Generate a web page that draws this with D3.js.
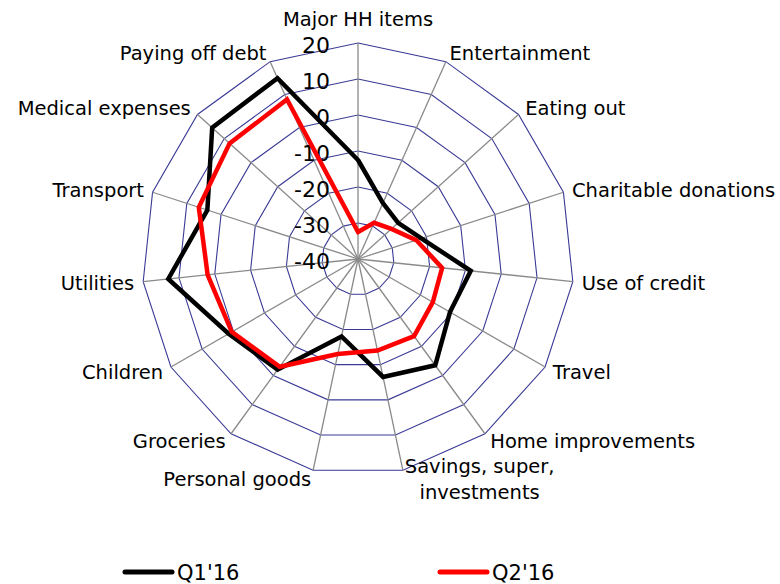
<!DOCTYPE html>
<html>
	<head>
		<script type="text/javascript" src="https://d3js.org/d3.v7.min.js"></script>
		<style>
			body { margin: 0; background: #fff; }
			text { font-family: "DejaVu Sans", sans-serif; fill: #000; }
		</style>
	</head>
	<body>
		<svg id="viz"></svg>
	</body>
	<script type="text/javascript">
		// categories, clockwise from the top
		var categories = ["Major HH items", "Entertainment", "Eating out", "Charitable donations",
			"Use of credit", "Travel", "Home improvements", "Savings, super,\ninvestments",
			"Personal goods", "Groceries", "Children", "Utilities", "Transport",
			"Medical expenses", "Paying off debt"];
		var q1Values = [-12.5, -23, -25, -21.5, -8.5, -10.5, -3.5, -6.5, -18, -2, 1.5, 13, 4, 14.5, 15];
		var q2Values = [-32.5, -29, -27.5, -23, -16.5, -16, -13.5, -14, -13, -3, 0.5, 2, 6.5, 8, 8.5];
		var tickValues = [-40, -30, -20, -10, 0, 10, 20];
		var seriesNames = ["Q1'16", "Q2'16"];
		var seriesColors = ["#000000", "#ff0000"];

		var width = 780, height = 584;
		var cx = 358, cy = 259, R = 216;
		var step = 2 * Math.PI / categories.length;

		var svg = d3.select("#viz")
			.attr("width", width)
			.attr("height", height);

		var r = d3.scaleLinear()
			.domain([d3.min(tickValues), d3.max(tickValues)])
			.range([0, R]);

		var g = svg.append("g")
			.attr("transform", "translate(" + cx + "," + cy + ")");

		//grid rings (polygons)
		var ringLine = d3.lineRadial()
			.angle(function(d, i) { return i * step; })
			.curve(d3.curveLinearClosed);

		g.append("g").selectAll("path")
			.data(tickValues.filter(function(v) { return v > tickValues[0]; }))
			.enter()
			.append("path")
			.attr("d", function(v) {
				return ringLine.radius(r(v))(categories);
			})
			.attr("fill", "none")
			.attr("stroke", "#3a3a96")
			.attr("stroke-width", 1.1);

		//spokes
		g.append("g").selectAll("line")
			.data(categories)
			.enter()
			.append("line")
			.attr("x1", 0).attr("y1", 0)
			.attr("x2", function(d, i) { return R * Math.sin(i * step); })
			.attr("y2", function(d, i) { return -R * Math.cos(i * step); })
			.attr("stroke", "#8a8a8a")
			.attr("stroke-width", 1.3);

		//value labels on the vertical axis
		g.append("g").selectAll("text")
			.data(tickValues)
			.enter()
			.append("text")
			.attr("x", -28)
			.attr("y", function(v) { return -r(v) + 2; })
			.attr("dy", "0.36em")
			.attr("text-anchor", "end")
			.style("font-size", "22px")
			.text(function(v) { return v; });

		//category labels
		var labels = g.append("g").selectAll("text")
			.data(categories)
			.enter()
			.append("text")
			.style("font-size", "19.5px")
			.attr("text-anchor", function(d, i) {
				var s = Math.sin(i * step);
				return s > 0.05 ? "start" : (s < -0.05 ? "end" : "middle");
			})
			.attr("transform", function(d, i) {
				var a = i * step;
				var x = (R + 9) * Math.sin(a);
				var y = -(R + 9) * Math.cos(a);
				if (Math.cos(a) > 0.95) y -= 15;
				return "translate(" + x + "," + y + ")";
			});

		labels.each(function(d) {
			var lines = d.split("\n");
			var t = d3.select(this);
			var lh = 26;
			lines.forEach(function(l, k) {
				t.append("tspan")
					.attr("x", 0)
					.attr("y", (k - (lines.length - 1) / 2) * lh)
					.attr("dy", "0.36em")
					.text(l);
			});
			if (lines.length > 1) {
				//wrapped label: lines centred inside the block
				var w = d3.max(t.selectAll("tspan").nodes(), function(n) { return n.getComputedTextLength(); });
				t.attr("text-anchor", "middle");
				t.selectAll("tspan").attr("x", w / 2);
			}
		});

		//series
		var seriesLine = d3.lineRadial()
			.angle(function(d, i) { return i * step; })
			.radius(function(d) { return r(d); })
			.curve(d3.curveLinearClosed);

		g.append("g").selectAll("path")
			.data([q1Values, q2Values])
			.enter()
			.append("path")
			.attr("d", seriesLine)
			.attr("fill", "none")
			.attr("stroke", function(d, i) { return seriesColors[i]; })
			.attr("stroke-width", 4.5)
			.attr("stroke-linejoin", "miter");

		//legend
		var legendX = d3.scaleOrdinal().domain(seriesNames).range([125, 440]);
		var legend = svg.append("g").selectAll("g")
			.data(seriesNames)
			.enter()
			.append("g")
			.attr("transform", function(d) { return "translate(" + legendX(d) + ",572)"; });

		legend.append("line")
			.attr("x1", 0).attr("x2", 47)
			.attr("stroke", function(d, i) { return seriesColors[i]; })
			.attr("stroke-width", 5)
			.attr("stroke-linecap", "round");

		legend.append("text")
			.attr("x", 52)
			.attr("dy", "0.36em")
			.style("font-size", "21px")
			.text(function(d) { return d; });
	</script>
</html>
